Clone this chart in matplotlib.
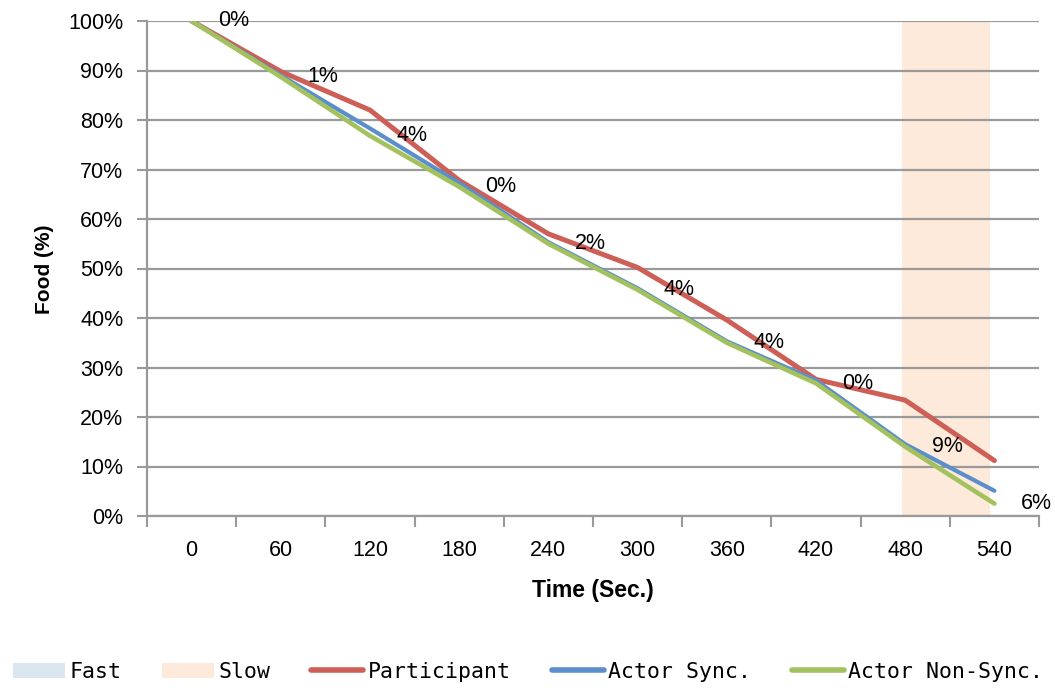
import numpy as np
import matplotlib
matplotlib.use("Agg")
import matplotlib.pyplot as plt
from matplotlib.patches import Patch
from matplotlib.lines import Line2D

# data
times = ["0", "60", "120", "180", "240", "300", "360", "420", "480", "540"]
fast = [0, 0, 0, 0, 0, 0, 0, 0, 0, 0]
slow = [0, 0, 0, 0, 0, 0, 0, 0, 100, 0]
participant = [100, 89.8, 82, 67.8, 57, 50.2, 39.6, 27.6, 23.4, 11.2]
actor_sync = [100, 89, 78.3, 67.3, 55.3, 46, 35.3, 27.4, 14.5, 5.1]
actor_nonsync = [100, 88.7, 76.8, 66.5, 55, 45.7, 35, 26.8, 14, 2.5]
diff_labels = ["0%", "1%", "4%", "0%", "2%", "4%", "4%", "0%", "9%", "6%"]

red = "#CD5F57"
blue = "#5B8FCB"
green = "#A3C25E"
fast_col = "#DCE6F1"
slow_col = "#FDEADA"
gray = "#9A9A9A"

plt.rcParams["font.family"] = ["Liberation Sans", "DejaVu Sans"]

W, H = 1055, 691
fig = plt.figure(figsize=(W / 100, H / 100), dpi=100)
ax = fig.add_axes([147 / W, 1 - 516 / H, (1039 - 147) / W, (516 - 21) / H])

x = np.arange(len(times))

# shaded periods (bars behind everything)
ax.bar(x + 0.46, fast, width=0.99, color=fast_col, zorder=0.5)
ax.bar(x + 0.46, slow, width=0.99, color=slow_col, zorder=0.5)

ax.plot(x, participant, color=red, lw=3.6, solid_capstyle="round", zorder=3)
ax.plot(x, actor_sync, color=blue, lw=3.0, solid_capstyle="round", zorder=3.1)
ax.plot(x, actor_nonsync, color=green, lw=3.3, solid_capstyle="round", zorder=3.2)

for xi, yi, lab in zip(x, actor_nonsync, diff_labels):
    ax.annotate(lab, (xi, yi), xytext=(19, 0), textcoords="offset points",
                ha="left", va="center", fontsize=15.5, color="black", zorder=5,
                annotation_clip=False)

ax.set_xlim(-0.5, len(times) - 0.5)
ax.set_ylim(0, 100)

ax.set_yticks(np.arange(0, 101, 10))
ax.set_yticklabels([f"{v}%" for v in range(0, 101, 10)], fontsize=15.5)
ax.set_xticks(x)
ax.set_xticklabels(times, fontsize=15.5)
ax.set_xticks(np.arange(-0.5, len(times)), minor=True)

ax.tick_params(axis="x", which="major", length=0, pad=17)
ax.tick_params(axis="x", which="minor", length=8, width=1.5, color=gray)
ax.tick_params(axis="y", length=7, width=1.5, color=gray, pad=10)

ax.grid(axis="y", color=gray, lw=1.6)
for side in ["top", "right"]:
    ax.spines[side].set_visible(False)
for side in ["left", "bottom"]:
    ax.spines[side].set_color(gray)
    ax.spines[side].set_linewidth(1.6)

ax.set_xlabel("Time (Sec.)", fontweight="bold", fontsize=16.5, va="center")
ax.xaxis.set_label_coords((593 - 147) / 892, (516 - 591) / 495)
ax.set_ylabel("Food (%)", fontweight="bold", fontsize=15, va="center")
ax.yaxis.set_label_coords((45 - 147) / 892, (516 - 269) / 495)

handles = [
    Patch(facecolor=fast_col, edgecolor="none"),
    Patch(facecolor=slow_col, edgecolor="none"),
    Line2D([], [], color=red, lw=4, solid_capstyle="round"),
    Line2D([], [], color=blue, lw=4, solid_capstyle="round"),
    Line2D([], [], color=green, lw=4, solid_capstyle="round"),
]
labels = ["Fast", "Slow", "Participant", "Actor Sync.", "Actor Non-Sync."]
fig.legend(handles, labels, loc="center", bbox_to_anchor=(528 / W, 1 - 672 / H),
           ncol=5, frameon=False,
           prop={"family": "DejaVu Sans Mono", "size": 15.5},
           handlelength=2.42, handletextpad=0.2, columnspacing=1.9,
           borderaxespad=0, borderpad=0)

fig.savefig("out.png", dpi=100)
